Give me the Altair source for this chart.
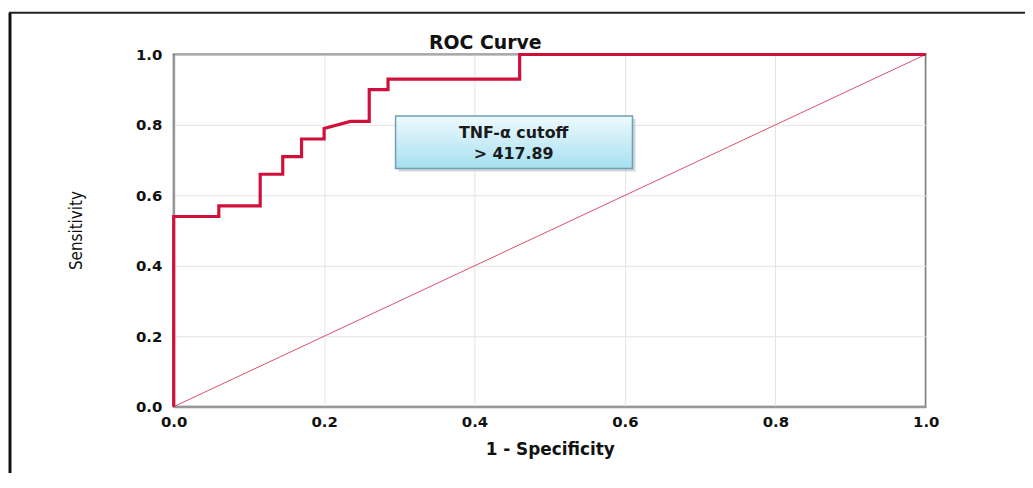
import altair as alt
import pandas as pd

# ROC step curve (1 - specificity, sensitivity)
fpr = [0.0, 0.0, 0.06, 0.06, 0.115, 0.115, 0.145, 0.145, 0.17, 0.17,
       0.2, 0.2, 0.235, 0.26, 0.26, 0.285, 0.285, 0.46, 0.46, 1.0]
tpr = [0.0, 0.54, 0.54, 0.57, 0.57, 0.66, 0.66, 0.71, 0.71, 0.76,
       0.76, 0.79, 0.81, 0.81, 0.90, 0.90, 0.93, 0.93, 1.0, 1.0]

# reference diagonal
diag_fpr = [0.0, 1.0]
diag_tpr = [0.0, 1.0]

ticks = [0.0, 0.2, 0.4, 0.6, 0.8, 1.0]

chart_title = ["ROC Curve"]

# annotation box (data coordinates) and its text
box_x = [0.295]
box_x2 = [0.61]
box_y = [0.825]
box_y2 = [0.676]
note_lines = ["TNF-α cutoff", "> 417.89"]
note_x = [0.452, 0.452]
note_y = [0.778, 0.718]

roc_df = pd.DataFrame({"fpr": fpr, "tpr": tpr, "order": list(range(len(fpr)))})
diag_df = pd.DataFrame({"fpr": diag_fpr, "tpr": diag_tpr})
box_df = pd.DataFrame({"fpr": box_x, "fpr2": box_x2, "tpr": box_y, "tpr2": box_y2})
note_df = pd.DataFrame({"fpr": note_x, "tpr": note_y, "label": note_lines})
title_df = pd.DataFrame({"label": chart_title})

sx = alt.Scale(domain=[0, 1], nice=False, zero=False)
sy = alt.Scale(domain=[0, 1], nice=False, zero=False)

ax_x = alt.Axis(values=ticks, format=".1f", title="1 - Specificity", grid=True,
                ticks=False, labelPadding=8, titlePadding=12, labelFlush=False,
                labelFont="DejaVu Sans", labelFontWeight="bold", labelFontSize=15,
                labelColor="#111", titleFont="DejaVu Sans", titleFontWeight="bold",
                titleFontSize=17, titleColor="#111")
ax_y = alt.Axis(values=ticks, format=".1f", title="Sensitivity", grid=True,
                ticks=False, labelPadding=12, labelFlush=False,
                labelFont="DejaVu Sans", labelFontWeight="bold", labelFontSize=15,
                labelColor="#111",
                titleFont="Liberation Sans Narrow, DejaVu Sans Condensed, Roboto, sans-serif",
                titleFontWeight="normal", titleFontSize=17, titleColor="#111",
                titleAngle=270, titleX=-98, titleY=177, titleAlign="center",
                titleBaseline="middle")


def X(field):
    return alt.X(field, type="quantitative", scale=sx, axis=ax_x)


def Y(field):
    return alt.Y(field, type="quantitative", scale=sy, axis=ax_y)


diag = alt.Chart(diag_df).mark_line(color="#d9506e", strokeWidth=1).encode(
    x=X("fpr"), y=Y("tpr"))

roc = alt.Chart(roc_df).mark_line(color="#d0103a", strokeWidth=3.2,
                                  strokeJoin="miter").encode(
    x=X("fpr"), y=Y("tpr"), order="order:Q")

shadow = alt.Chart(box_df).mark_rect(color="#9aa8b0", opacity=0.45,
                                     xOffset=3, x2Offset=3, yOffset=3, y2Offset=3).encode(
    x=X("fpr"), x2="fpr2", y=Y("tpr"), y2="tpr2")

box = alt.Chart(box_df).mark_rect(
    color={"gradient": "linear", "x1": 0, "y1": 0, "x2": 0, "y2": 1,
           "stops": [{"offset": 0, "color": "#eefafd"},
                     {"offset": 1, "color": "#a6dff0"}]},
    stroke="#6f9fb5", strokeWidth=1.5).encode(
    x=X("fpr"), x2="fpr2", y=Y("tpr"), y2="tpr2")

note = alt.Chart(note_df).mark_text(font="DejaVu Sans", fontWeight="bold",
                                    fontSize=16, color="#1a1a1a").encode(
    x=X("fpr"), y=Y("tpr"), text="label:N")

title = alt.Chart(title_df).mark_text(font="DejaVu Sans", fontWeight="bold",
                                      fontSize=19, color="#111",
                                      baseline="alphabetic").encode(
    x=alt.value(314), y=alt.value(-6), text="label:N")

one = pd.DataFrame({"a": [0]})
frame_left = alt.Chart(one).mark_rule(color="#111", strokeWidth=3).encode(
    x=alt.value(-165), y=alt.value(-42), y2=alt.value(430))
frame_top = alt.Chart(one).mark_rule(color="#222", strokeWidth=2).encode(
    x=alt.value(-166), x2=alt.value(870), y=alt.value(-42))

chart = alt.layer(diag, roc, shadow, box, note, title, frame_left, frame_top).properties(
    width=758, height=355,
    padding={"left": 167, "top": 45, "right": 100, "bottom": 65},
    autosize=alt.AutoSizeParams(type="none"),
    background="white",
).configure_view(stroke="#606060", strokeWidth=2).configure_axis(
    domainColor="#999999", domainWidth=2, gridColor="#e4e4e4", gridWidth=1)

chart.save("out.html", embed_options={"renderer": "svg", "actions": False})
